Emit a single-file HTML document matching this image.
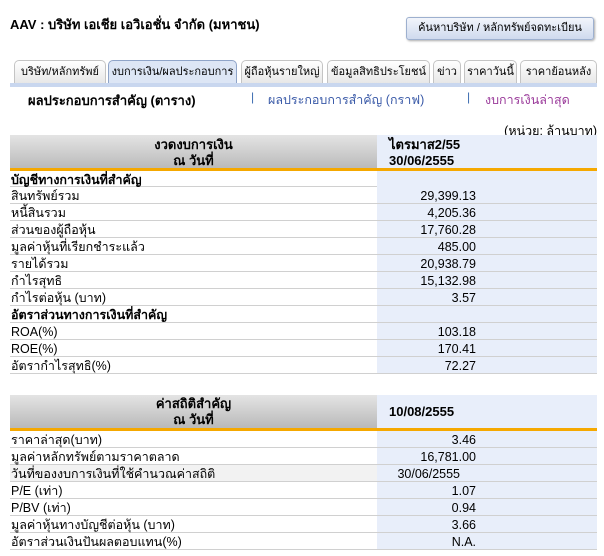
<!DOCTYPE html>
<html><head><meta charset="utf-8"><style>
*{margin:0;padding:0;box-sizing:border-box}
body{width:604px;height:556px;background:#fff;font-family:"Liberation Sans","DejaVu Sans",sans-serif;font-size:12px;color:#000;position:relative;overflow:hidden}
.a{position:absolute;white-space:nowrap}
.tab{position:absolute;top:60px;height:24px;border:1px solid #c4c4c4;border-bottom:none;border-radius:5px 5px 0 0;background:linear-gradient(#fff,#e6e6e6);font-size:11px;text-align:center;line-height:22px}
.tab.on{background:#dde6f5;border-color:#8fa4c8}
.btn{position:absolute;left:406px;top:17px;width:188px;height:23px;border:1px solid #9db0cf;border-radius:3px;background:linear-gradient(#f2f5fb,#cfdaee);font-size:11px;text-align:center;line-height:21px;box-shadow:1px 1px 2px #aaa}
.hdr{position:absolute;left:10px;width:367px;background:linear-gradient(#e4e4e4,#b9b9b9);text-align:center;font-weight:bold;line-height:16px;font-size:13px}
.hdr2{position:absolute;left:377px;width:220px;background:#e8eefa;font-weight:bold;font-size:13px}
.or{position:absolute;left:10px;width:587px;height:3px;background:#f5a800}
.row{position:absolute;left:10px;width:587px;height:17px;border-bottom:1px solid #d0d0d0;line-height:18px;font-size:12.5px}
.row .l{position:absolute;left:0;width:367px;padding-left:1px;height:16px}
.row .r{position:absolute;left:367px;width:220px;height:16px;background:#e8eefa}
.row .v{position:absolute;right:121px}
.b{font-weight:bold}
</style></head><body>
<div class="a b" style="left:10px;top:14px;font-size:13px">AAV : บริษัท เอเชีย เอวิเอชั่น จำกัด (มหาชน)</div>
<div class="btn">ค้นหาบริษัท / หลักทรัพย์จดทะเบียน</div>
<div class="tab" style="left:14px;width:92px">บริษัท/หลักทรัพย์</div>
<div class="tab on" style="left:108px;width:129px">งบการเงิน/ผลประกอบการ</div>
<div class="tab" style="left:241px;width:82px">ผู้ถือหุ้นรายใหญ่</div>
<div class="tab" style="left:327px;width:103px">ข้อมูลสิทธิประโยชน์</div>
<div class="tab" style="left:433px;width:28px">ข่าว</div>
<div class="tab" style="left:464px;width:53px">ราคาวันนี้</div>
<div class="tab" style="left:520px;width:77px">ราคาย้อนหลัง</div>
<div class="a" style="left:10px;top:83px;width:587px;height:4px;background:#c9d7ef"></div>
<div class="a b" style="left:28px;top:90px;font-size:13px">ผลประกอบการสำคัญ (ตาราง)</div>
<div class="a" style="left:251px;top:90px;color:#3a6ab0">|</div>
<div class="a" style="left:268px;top:90px;color:#3a5aa8;font-size:12.5px">ผลประกอบการสำคัญ (กราฟ)</div>
<div class="a" style="left:467px;top:90px;color:#3a6ab0">|</div>
<div class="a" style="left:485px;top:90px;color:#9a3a9a;font-size:12.5px">งบการเงินล่าสุด</div>
<div class="a" style="right:7px;top:121px;font-size:12.5px">(หน่วย: ล้านบาท)</div>

<div class="hdr" style="top:135px;height:34px;padding-top:2px">งวดงบการเงิน<br>ณ วันที่</div>
<div class="hdr2" style="top:135px;height:34px;padding:2px 0 0 12px;line-height:16px">ไตรมาส2/55<br>30/06/2555</div>
<div class="or" style="top:168px"></div>

<div class="row b" style="top:171px;height:16px"><div class="r"></div><div class="l">บัญชีทางการเงินที่สำคัญ</div></div>
<div class="row" style="top:187px"><div class="r"></div><div class="l">สินทรัพย์รวม</div><div class="v">29,399.13</div></div>
<div class="row" style="top:204px"><div class="r"></div><div class="l">หนี้สินรวม</div><div class="v">4,205.36</div></div>
<div class="row" style="top:221px"><div class="r"></div><div class="l">ส่วนของผู้ถือหุ้น</div><div class="v">17,760.28</div></div>
<div class="row" style="top:238px"><div class="r"></div><div class="l">มูลค่าหุ้นที่เรียกชำระแล้ว</div><div class="v">485.00</div></div>
<div class="row" style="top:255px"><div class="r"></div><div class="l">รายได้รวม</div><div class="v">20,938.79</div></div>
<div class="row" style="top:272px"><div class="r"></div><div class="l">กำไรสุทธิ</div><div class="v">15,132.98</div></div>
<div class="row" style="top:289px"><div class="r"></div><div class="l">กำไรต่อหุ้น (บาท)</div><div class="v">3.57</div></div>
<div class="row b" style="top:306px"><div class="r"></div><div class="l">อัตราส่วนทางการเงินที่สำคัญ</div></div>
<div class="row" style="top:323px"><div class="r"></div><div class="l">ROA(%)</div><div class="v">103.18</div></div>
<div class="row" style="top:340px"><div class="r"></div><div class="l">ROE(%)</div><div class="v">170.41</div></div>
<div class="row" style="top:357px"><div class="r"></div><div class="l">อัตรากำไรสุทธิ(%)</div><div class="v">72.27</div></div>

<div class="hdr" style="top:395px;height:33px;padding-top:1px">ค่าสถิติสำคัญ<br>ณ วันที่</div>
<div class="hdr2" style="top:395px;height:33px;padding-left:12px;line-height:33px">10/08/2555</div>
<div class="or" style="top:428px"></div>
<div class="row" style="top:431px"><div class="r"></div><div class="l">ราคาล่าสุด(บาท)</div><div class="v">3.46</div></div>
<div class="row" style="top:448px"><div class="r"></div><div class="l">มูลค่าหลักทรัพย์ตามราคาตลาด</div><div class="v">16,781.00</div></div>
<div class="row" style="top:465px"><div class="r"></div><div class="l" style="background:#f2f2f2">วันที่ของงบการเงินที่ใช้คำนวณค่าสถิติ</div><div class="v" style="right:137px">30/06/2555</div></div>
<div class="row" style="top:482px"><div class="r"></div><div class="l">P/E (เท่า)</div><div class="v">1.07</div></div>
<div class="row" style="top:499px"><div class="r"></div><div class="l">P/BV (เท่า)</div><div class="v">0.94</div></div>
<div class="row" style="top:516px"><div class="r"></div><div class="l">มูลค่าหุ้นทางบัญชีต่อหุ้น (บาท)</div><div class="v">3.66</div></div>
<div class="row" style="top:533px"><div class="r"></div><div class="l">อัตราส่วนเงินปันผลตอบแทน(%)</div><div class="v">N.A.</div></div>
</body></html>
